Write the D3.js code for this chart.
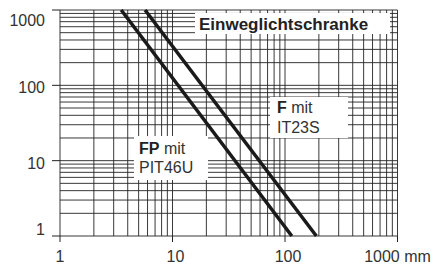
<!DOCTYPE html>
<html><head><meta charset="utf-8">
<script src="https://cdn.jsdelivr.net/npm/d3@7"></script>
<style>html,body{margin:0;padding:0;background:#fff;}svg{display:block;font-family:"Liberation Sans",Arial,sans-serif;}</style>
</head><body><svg id="c" width="435" height="269"></svg>
<script>
const xTicks = [1, 10, 100, 1000];
const xTickLabels = ["1", "10", "100", "1000 mm"];
const yTicks = [1, 10, 100, 1000];
const yTickLabels = ["1", "10", "100", "1000"];
const seriesNames = ["FP mit PIT46U", "F mit IT23S"];
const seriesFP = [{x: 3.5, y: 1000}, {x: 115, y: 1}];
const seriesF = [{x: 5.7, y: 1000}, {x: 190, y: 1}];
const titleText = "Einweglichtschranke";

const svg = d3.select("#c");
const L = 60, R = 397.5, T = 10, B = 236;
const x = d3.scaleLog().domain([1, 1000]).range([L, R]);
const y = d3.scaleLog().domain([1, 1000]).range([B, T]);

// minor grid values 1..1000
const gridVals = [];
for (let d = 1; d < 1000; d *= 10) for (let k = 1; k < 10; k++) gridVals.push(d * k);
gridVals.push(1000);

const g = svg.append("g");
g.selectAll("line.v").data(gridVals).join("line")
  .attr("x1", d => x(d)).attr("x2", d => x(d))
  .attr("y1", T).attr("y2", B)
  .attr("stroke", "#222").attr("stroke-width", 0.9);
g.selectAll("line.h").data(gridVals).join("line")
  .attr("y1", d => y(d)).attr("y2", d => y(d))
  .attr("x1", L).attr("x2", R)
  .attr("stroke", "#222").attr("stroke-width", 0.9);

// major ticks outside
g.selectAll("line.yt").data(yTicks).join("line")
  .attr("x1", L - 8).attr("x2", L).attr("y1", d => y(d)).attr("y2", d => y(d))
  .attr("stroke", "#222").attr("stroke-width", 1);
g.selectAll("line.xt").data(xTicks).join("line")
  .attr("y1", B).attr("y2", B + 6).attr("x1", d => x(d)).attr("x2", d => x(d))
  .attr("stroke", "#222").attr("stroke-width", 1);

// tick labels
svg.selectAll("text.yl").data(yTicks).join("text")
  .attr("x", 45)
  .attr("y", d => Math.max(T + 16, Math.min(B - 1, y(d) + 8)))
  .attr("text-anchor", "end")
  .attr("font-size", 16).attr("fill", "#333")
  .text((d, i) => yTickLabels[i]);
svg.selectAll("text.xl").data(xTicks).join("text")
  .attr("x", d => x(d) + (d === 10 || d === 100 ? 3 : 0))
  .attr("y", 262)
  .attr("text-anchor", "middle")
  .attr("font-size", 16).attr("fill", "#333")
  .text((d, i) => xTickLabels[i]);

// label boxes
svg.append("rect").attr("x", 195).attr("y", 13).attr("width", 195).attr("height", 21).attr("fill", "#fff");
svg.append("text").attr("x", 199).attr("y", 30).attr("font-size", 17).attr("font-weight", "bold").attr("fill", "#222").text(titleText);

svg.append("rect").attr("x", 270).attr("y", 97).attr("width", 78).attr("height", 41).attr("fill", "#fff");
const tF = svg.append("text").attr("font-size", 16).attr("fill", "#333");
tF.append("tspan").attr("x", 277).attr("y", 113).attr("font-weight", "bold").attr("fill", "#222").text("F");
tF.append("tspan").text(" mit");
tF.append("tspan").attr("x", 277).attr("y", 133).text("IT23S");

svg.append("rect").attr("x", 134).attr("y", 136).attr("width", 74).attr("height", 44).attr("fill", "#fff");
const tFP = svg.append("text").attr("font-size", 16).attr("fill", "#333");
tFP.append("tspan").attr("x", 139).attr("y", 154).attr("font-weight", "bold").attr("fill", "#222").text("FP");
tFP.append("tspan").text(" mit");
tFP.append("tspan").attr("x", 139).attr("y", 173).text("PIT46U");

// series lines
const line = d3.line().x(d => x(d.x)).y(d => y(d.y));
[seriesFP, seriesF].forEach(s => {
  svg.append("path").datum(s).attr("d", line)
    .attr("fill", "none").attr("stroke", "#1a1a1a").attr("stroke-width", 3.5);
});
</script></body></html>
